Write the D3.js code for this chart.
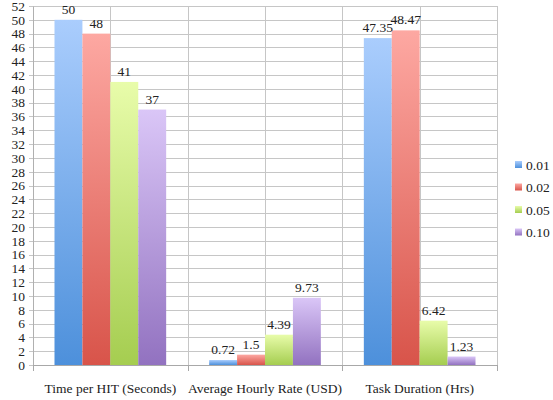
<!DOCTYPE html>
<html>
<head>
<meta charset="utf-8">
<script src="https://cdn.jsdelivr.net/npm/d3@7"></script>
<style>
  html, body { margin: 0; padding: 0; background: #fff; }
  svg { display: block; font-family: "Liberation Serif", "DejaVu Serif", serif; }
</style>
</head>
<body>
<svg id="chart" width="553" height="400"></svg>
<script>
// Chart data
const categories = ["Time per HIT (Seconds)", "Average Hourly Rate (USD)", "Task Duration (Hrs)"];
const seriesNames = ["0.01", "0.02", "0.05", "0.10"];
const series001 = [50, 0.72, 47.35];
const series002 = [48, 1.5, 48.47];
const series005 = [41, 4.39, 6.42];
const series010 = [37, 9.73, 1.23];
const valueLabels001 = ["50", "0.72", "47.35"];
const valueLabels002 = ["48", "1.5", "48.47"];
const valueLabels005 = ["41", "4.39", "6.42"];
const valueLabels010 = ["37", "9.73", "1.23"];
const yTicks = d3.range(0, 53, 2);

const seriesValues = [series001, series002, series005, series010];
const seriesLabels = [valueLabels001, valueLabels002, valueLabels005, valueLabels010];

// gradient stops per series: light top, saturated bottom
const palette = [
  { top: "#aacdfd", bottom: "#4d90db" },
  { top: "#fda8a2", bottom: "#d8544a" },
  { top: "#e8fcaa", bottom: "#a5cd50" },
  { top: "#dac6f7", bottom: "#9272c0" }
];

const svg = d3.select("#chart");
const margin = { left: 33, right: 56, top: 6, bottom: 35 };
const W = 553, H = 400;
const plotLeft = margin.left, plotRight = W - margin.right;
const plotTop = margin.top, plotBottom = H - margin.bottom;

const x0 = d3.scaleBand().domain(categories).range([plotLeft, plotRight]).paddingInner(0).paddingOuter(0);
const x1 = d3.scaleBand().domain(seriesNames).range([0, x0.bandwidth()]).paddingOuter(0.77).paddingInner(0);
const y = d3.scaleLinear().domain([0, 52]).range([plotBottom, plotTop]);

const defs = svg.append("defs");
palette.forEach((c, i) => {
  const g = defs.append("linearGradient")
    .attr("id", "grad" + i)
    .attr("x1", 0).attr("y1", 0).attr("x2", 0).attr("y2", 1);
  g.append("stop").attr("offset", "0%").attr("stop-color", c.top);
  g.append("stop").attr("offset", "100%").attr("stop-color", c.bottom);
});

// horizontal gridlines
svg.append("g")
  .selectAll("line")
  .data(yTicks)
  .join("line")
  .attr("x1", plotLeft - 4).attr("x2", plotRight)
  .attr("y1", d => Math.round(y(d)) + 0.5).attr("y2", d => Math.round(y(d)) + 0.5)
  .attr("stroke", "#c6c6c6").attr("stroke-width", 1);

// vertical gridlines at category boundaries and centres
const vLines = [];
categories.forEach(c => {
  vLines.push(x0(c));
  vLines.push(x0(c) + x0.bandwidth() / 2);
});
vLines.push(plotRight);
svg.append("g")
  .selectAll("line")
  .data(vLines)
  .join("line")
  .attr("x1", d => Math.round(d) + 0.5).attr("x2", d => Math.round(d) + 0.5)
  .attr("y1", plotTop).attr("y2", plotBottom)
  .attr("stroke", "#c6c6c6").attr("stroke-width", 1);

// y axis
const yAxis = d3.axisLeft(y).tickValues(yTicks).tickSize(0).tickPadding(8);
const yg = svg.append("g").attr("transform", `translate(${plotLeft},0)`).call(yAxis);
yg.select(".domain").attr("stroke", "#b0b0b0");
yg.selectAll("text").attr("font-size", 13.5).attr("fill", "#222")
  .attr("font-family", "Liberation Serif, serif");

// bars
const groups = svg.append("g")
  .selectAll("g")
  .data(categories)
  .join("g")
  .attr("transform", d => `translate(${x0(d)},0)`);

groups.selectAll("rect")
  .data((c, ci) => seriesNames.map((s, si) => ({ s, si, v: seriesValues[si][ci], label: seriesLabels[si][ci] })))
  .join("rect")
  .attr("x", d => x1(d.s))
  .attr("width", x1.bandwidth())
  .attr("y", d => y(d.v))
  .attr("height", d => y(0) - y(d.v))
  .attr("fill", d => `url(#grad${d.si})`);

groups.selectAll("text")
  .data((c, ci) => seriesNames.map((s, si) => ({ s, si, v: seriesValues[si][ci], label: seriesLabels[si][ci] })))
  .join("text")
  .attr("x", d => x1(d.s) + x1.bandwidth() / 2)
  .attr("y", d => y(d.v) - 6)
  .attr("text-anchor", "middle")
  .attr("font-size", 13.5)
  .attr("fill", "#222")
  .text(d => d.label);

// x axis baseline and ticks
const xg = svg.append("g").attr("transform", `translate(0,${plotBottom})`);
xg.append("line")
  .attr("x1", plotLeft).attr("x2", plotRight)
  .attr("y1", 0.5).attr("y2", 0.5)
  .attr("stroke", "#a8a8a8");
xg.selectAll("line.tick")
  .data(categories.map(c => x0(c)).concat([plotRight]))
  .join("line")
  .attr("class", "tick")
  .attr("x1", d => Math.round(d) + 0.5).attr("x2", d => Math.round(d) + 0.5)
  .attr("y1", 0).attr("y2", 6)
  .attr("stroke", "#a8a8a8");
xg.selectAll("text")
  .data(categories)
  .join("text")
  .attr("x", d => x0(d) + x0.bandwidth() / 2)
  .attr("y", 28)
  .attr("text-anchor", "middle")
  .attr("font-size", 13.5)
  .attr("fill", "#222")
  .text(d => d);

// legend
const legend = svg.append("g").attr("transform", "translate(515,165)");
const li = legend.selectAll("g")
  .data(seriesNames)
  .join("g")
  .attr("transform", (d, i) => `translate(0,${i * 22.5})`);
li.append("rect")
  .attr("x", 0).attr("y", -4).attr("width", 7).attr("height", 7)
  .attr("fill", (d, i) => `url(#grad${i})`);
li.append("text")
  .attr("x", 11).attr("y", 4.5)
  .attr("font-size", 13.5)
  .attr("fill", "#222")
  .text(d => d);
</script>
</body>
</html>
